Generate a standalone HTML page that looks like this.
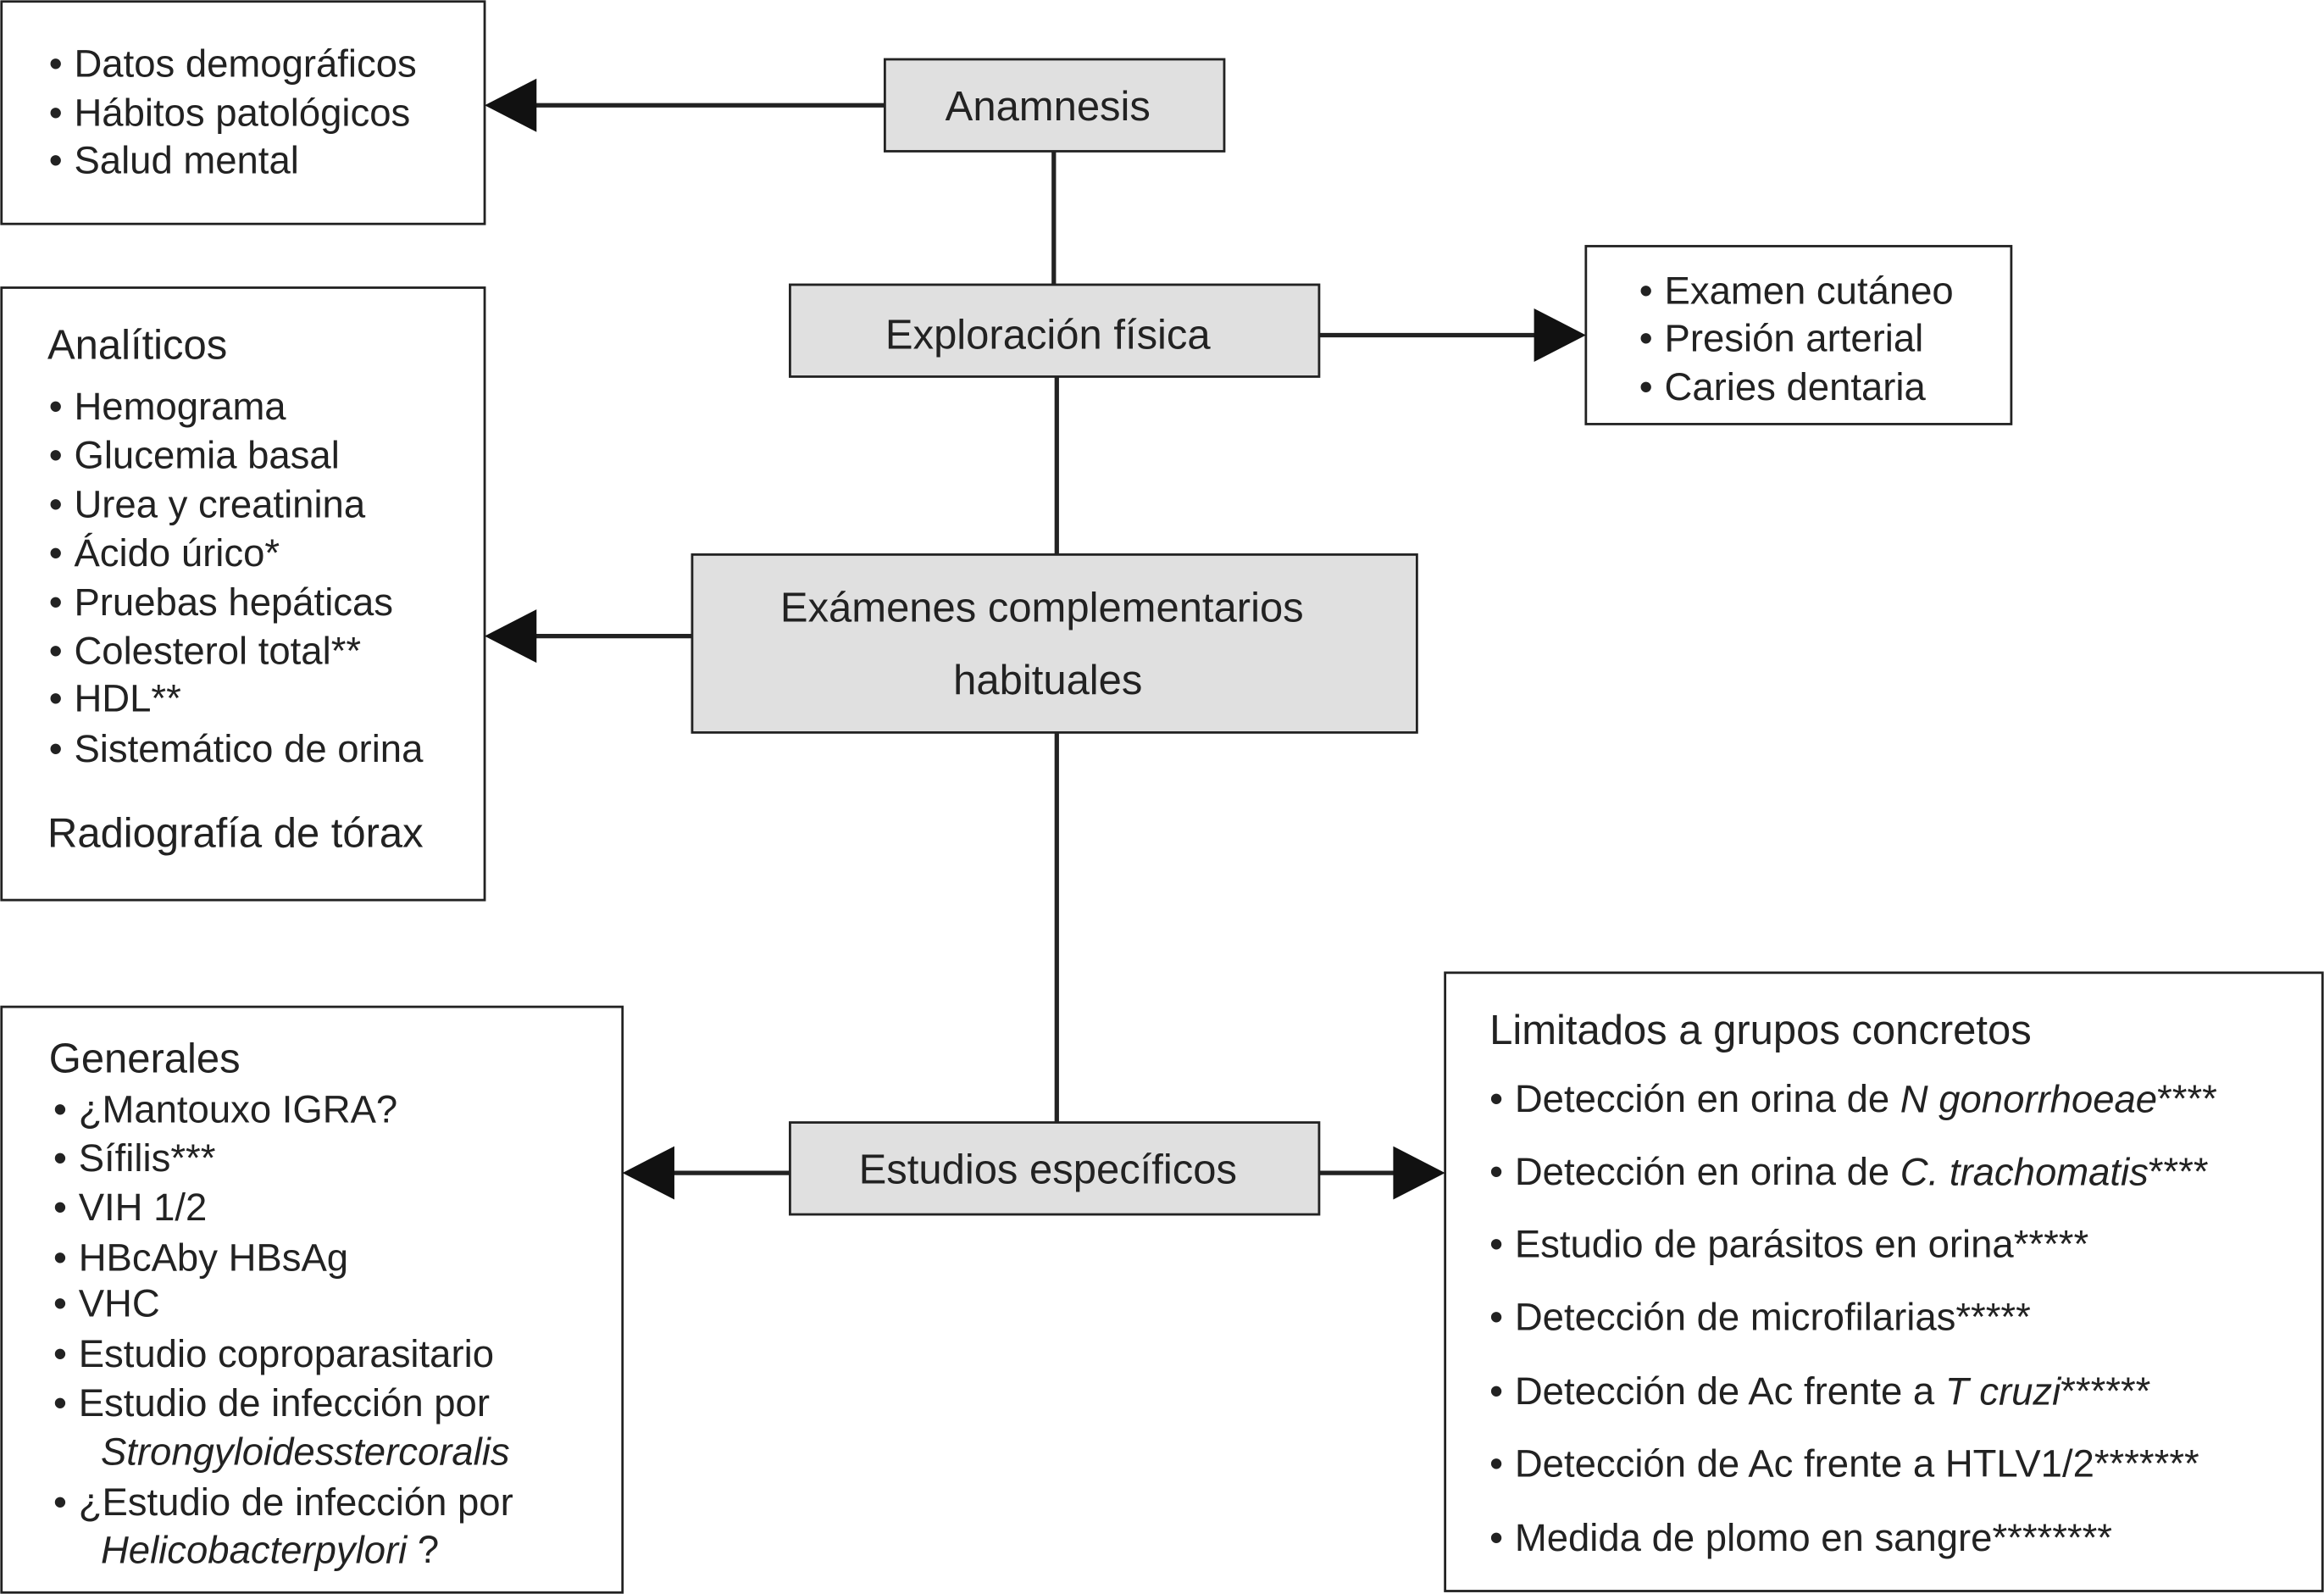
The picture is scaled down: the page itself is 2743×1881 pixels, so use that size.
<!DOCTYPE html>
<html><head><meta charset="utf-8"><style>html,body{margin:0;padding:0;background:#fff}svg{display:block}</style></head>
<body>
<svg xmlns="http://www.w3.org/2000/svg" width="2743" height="1881" viewBox="0 0 1568 1075" preserveAspectRatio="none" font-family="Liberation Sans, Arial, sans-serif" fill="#222">
<g fill="none" stroke="#222" stroke-width="1.6">
<rect x="1" y="1" width="326" height="150" fill="#fff"/>
<rect x="597" y="40" width="229" height="62" fill="#e0e0e0"/>
<rect x="533" y="192" width="357" height="62" fill="#e0e0e0"/>
<rect x="1070" y="166" width="287" height="120" fill="#fff"/>
<rect x="467" y="374" width="489" height="120" fill="#e0e0e0"/>
<rect x="1" y="194" width="326" height="413" fill="#fff"/>
<rect x="533" y="757" width="357" height="62" fill="#e0e0e0"/>
<rect x="1" y="679" width="419" height="395" fill="#fff"/>
<rect x="975" y="656" width="592" height="417" fill="#fff"/>
</g>
<g stroke="#222" stroke-width="3" fill="none">
<line x1="711" y1="102" x2="711" y2="192"/>
<line x1="713" y1="254" x2="713" y2="374"/>
<line x1="713" y1="494" x2="713" y2="757"/>
<line x1="597" y1="71" x2="360" y2="71"/>
<line x1="890" y1="226" x2="1037" y2="226"/>
<line x1="467" y1="429" x2="360" y2="429"/>
<line x1="533" y1="791" x2="453" y2="791"/>
<line x1="890" y1="791" x2="942" y2="791"/>
</g>
<g fill="#111">
<polygon points="327,71 362,53 362,89"/>
<polygon points="1070,226 1035,208 1035,244"/>
<polygon points="327,429 362,411 362,447"/>
<polygon points="420,791 455,773 455,809"/>
<polygon points="975,791 940,773 940,809"/>
</g>
<g font-size="28" text-anchor="middle" dominant-baseline="central">
<text x="707" y="72">Anamnesis</text>
<text x="707" y="226">Exploración física</text>
<text x="703" y="410">Exámenes complementarios</text>
<text x="707" y="459">habituales</text>
<text x="707" y="789">Estudios específicos</text>
</g>
<g font-size="26" dominant-baseline="central">
<g><text x="33" y="43">•</text><text x="50" y="43">Datos demográficos</text>
<text x="33" y="76">•</text><text x="50" y="76">Hábitos patológicos</text>
<text x="33" y="108">•</text><text x="50" y="108">Salud mental</text></g>
<g><text x="1106" y="196">•</text><text x="1123" y="196">Examen cutáneo</text>
<text x="1106" y="228">•</text><text x="1123" y="228">Presión arterial</text>
<text x="1106" y="261">•</text><text x="1123" y="261">Caries dentaria</text></g>
<text x="32" y="233" font-size="28">Analíticos</text>
<g><text x="33" y="274">•</text><text x="50" y="274">Hemograma</text>
<text x="33" y="307">•</text><text x="50" y="307">Glucemia basal</text>
<text x="33" y="340">•</text><text x="50" y="340">Urea y creatinina</text>
<text x="33" y="373">•</text><text x="50" y="373">Ácido úrico*</text>
<text x="33" y="406">•</text><text x="50" y="406">Pruebas hepáticas</text>
<text x="33" y="439">•</text><text x="50" y="439">Colesterol total**</text>
<text x="33" y="471">•</text><text x="50" y="471">HDL**</text>
<text x="33" y="505">•</text><text x="50" y="505">Sistemático de orina</text></g>
<text x="32" y="562" font-size="28">Radiografía de tórax</text>
<text x="33" y="714" font-size="28">Generales</text>
<g><text x="36" y="748">•</text><text x="53" y="748">¿Mantouxo IGRA?</text>
<text x="36" y="781">•</text><text x="53" y="781">Sífilis***</text>
<text x="36" y="814">•</text><text x="53" y="814">VIH 1/2</text>
<text x="36" y="848">•</text><text x="53" y="848">HBcAby HBsAg</text>
<text x="36" y="879">•</text><text x="53" y="879">VHC</text>
<text x="36" y="913">•</text><text x="53" y="913">Estudio coproparasitario</text>
<text x="36" y="946">•</text><text x="53" y="946">Estudio de infección por</text>
<text x="68" y="979" font-style="italic">Strongyloidesstercoralis</text>
<text x="36" y="1013">•</text><text x="53" y="1013">¿Estudio de infección por</text>
<text x="68" y="1045"><tspan font-style="italic">Helicobacterpylori</tspan> ?</text></g>
<text x="1005" y="695" font-size="28">Limitados a grupos concretos</text>
<g><text x="1005" y="741">•</text><text x="1022" y="741">Detección en orina de <tspan font-style="italic">N gonorrhoeae</tspan>****</text>
<text x="1005" y="790">•</text><text x="1022" y="790">Detección en orina de <tspan font-style="italic">C. trachomatis</tspan>****</text>
<text x="1005" y="839">•</text><text x="1022" y="839">Estudio de parásitos en orina*****</text>
<text x="1005" y="888">•</text><text x="1022" y="888">Detección de microfilarias*****</text>
<text x="1005" y="938">•</text><text x="1022" y="938">Detección de Ac frente a <tspan font-style="italic">T cruzi</tspan>******</text>
<text x="1005" y="987">•</text><text x="1022" y="987">Detección de Ac frente a HTLV1/2*******</text>
<text x="1005" y="1037">•</text><text x="1022" y="1037">Medida de plomo en sangre********</text></g>
</g>
</svg>
</body></html>
